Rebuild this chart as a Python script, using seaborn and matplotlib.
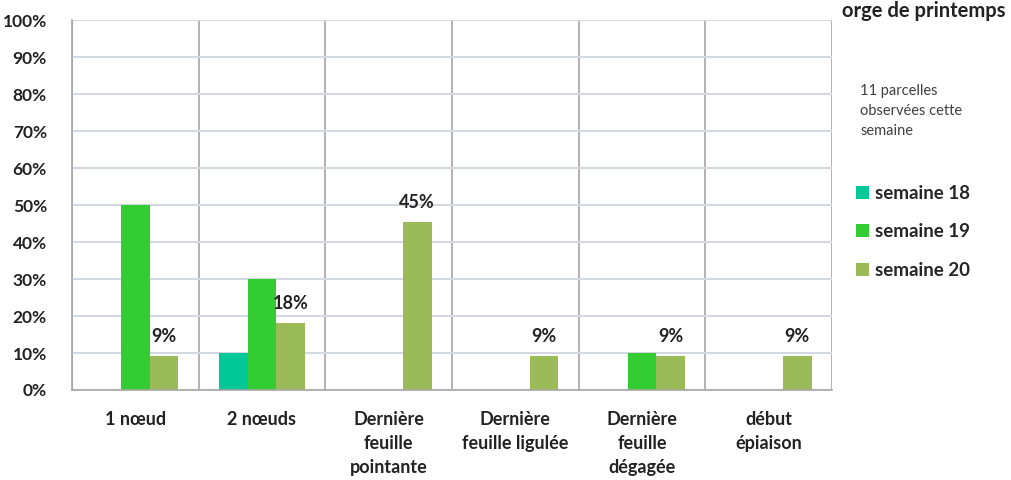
import pandas as pd
import numpy as np
import matplotlib
matplotlib.use("Agg")
import matplotlib.pyplot as plt
import seaborn as sns

stades = ["1 nœud", "2 nœuds", "Dernière\nfeuille\npointante",
          "Dernière\nfeuille ligulée", "Dernière\nfeuille\ndégagée", "début\népiaison"]
semaines = ["semaine 18", "semaine 19", "semaine 20"]
sem18 = [0, 10, 0, 0, 0, 0]
sem19 = [50, 30, 0, 0, 10, 0]
sem20 = [9.09, 18.18, 45.45, 9.09, 9.09, 9.09]
labels20 = ["9%", "18%", "45%", "9%", "9%", "9%"]
couleurs = ["#00C896", "#33CC33", "#9BBB59"]

df = pd.DataFrame({
    "stade": stades * 3,
    "semaine": [semaines[0]] * 6 + [semaines[1]] * 6 + [semaines[2]] * 6,
    "pct": sem18 + sem19 + sem20,
})

sns.set_style("white")
plt.rcParams["font.family"] = ["Lato", "DejaVu Sans"]

fig = plt.figure(figsize=(10.11, 4.8), dpi=100)
ax = fig.add_axes([0.0712, 0.1875, 0.7516, 0.7708])

sns.barplot(data=df, x="stade", y="pct", hue="semaine", palette=couleurs,
            width=0.68, linewidth=0, saturation=1, ax=ax, legend=True)

ax.set_ylim(0, 100)
ax.set_xlim(-0.5, 5.5)
ax.set_yticks(np.arange(0, 101, 10))
ax.set_yticklabels([f"{v}%" for v in range(0, 101, 10)], fontsize=12.5, fontweight="bold", color="#222222")
ax.set_xticks(range(6))
ax.set_xticklabels(stades, fontsize=13, fontweight="bold", color="#222222", linespacing=1.5)
ax.set_xlabel("")
ax.set_ylabel("")

# gridlines and separators
ax.set_axisbelow(True)
ax.yaxis.grid(True, color="#D3D9E3", linewidth=1.5)
for b in np.arange(-0.5, 6, 1):
    ax.axvline(b, color="#A6A6A6", linewidth=1.2, zorder=0.5)
ax.set_xticks(np.arange(-0.5, 6, 1), minor=True)
ax.tick_params(axis="x", which="major", length=0, pad=15)
ax.tick_params(axis="x", which="minor", length=8, color="#A6A6A6", width=1.2)
ax.tick_params(axis="y", length=6, color="#A6A6A6", width=1.2, pad=12)
for s in ["top", "right"]:
    ax.spines[s].set_visible(False)
for s in ["left", "bottom"]:
    ax.spines[s].set_color("#A6A6A6")
    ax.spines[s].set_linewidth(1.2)

# labels on semaine 20 bars
ax.bar_label(ax.containers[2], labels=labels20, padding=8, fontsize=13, fontweight="bold", color="#222222")

# legend
leg = ax.legend(loc="upper left", bbox_to_anchor=(1.01, 0.6), frameon=False,
                prop={"weight": "bold", "size": 13.5}, handlelength=0.7, handleheight=0.7,
                handletextpad=0.3, labelspacing=1.15)

fig.text(0.851, 0.826, "11 parcelles\nobservées cette\nsemaine", fontsize=10.5, color="#404040",
         va="top", ha="left", linespacing=1.55)
fig.text(0.995, 0.965, "orge de printemps", fontsize=14.5, fontweight="bold", color="#222222",
         ha="right", va="baseline")

fig.savefig("out.png", dpi=100)
